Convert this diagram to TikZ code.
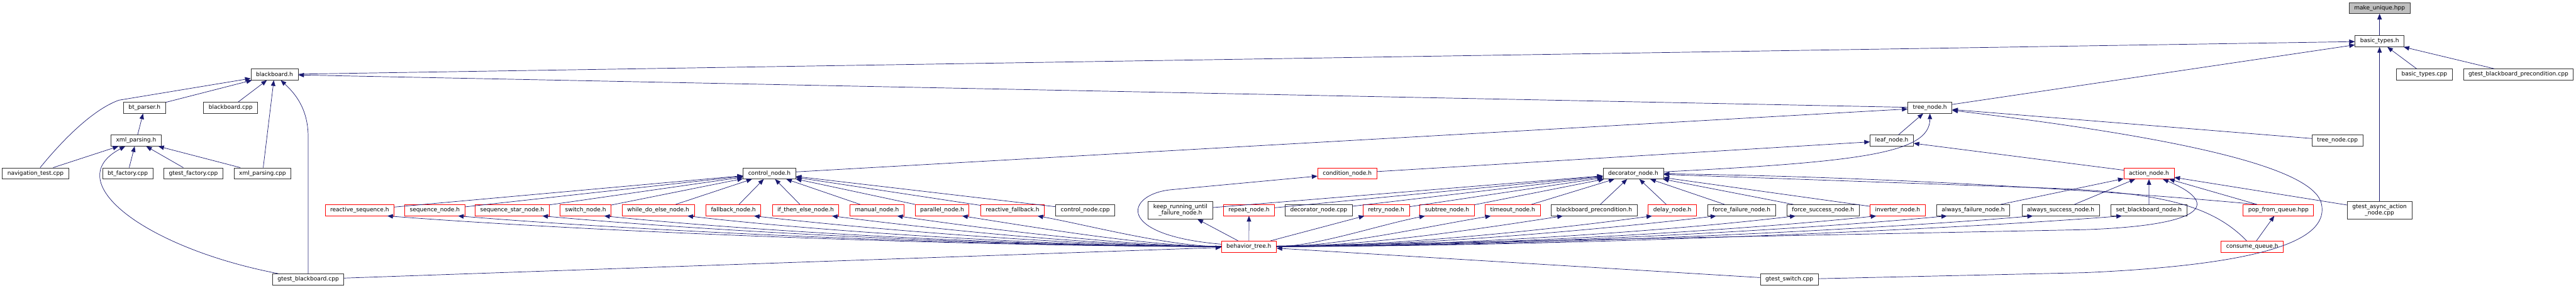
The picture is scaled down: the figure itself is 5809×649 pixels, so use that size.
\documentclass[tikz,border=0pt]{standalone}
\usepackage{fontspec}
\setmainfont{DejaVu Sans}
\usetikzlibrary{arrows.meta}
\definecolor{edgeblue}{HTML}{191970}
\definecolor{boxline}{HTML}{333333}
\definecolor{boxred}{HTML}{FF0000}
\definecolor{boxgray}{HTML}{BFBFBF}

\begin{document}
\begin{tikzpicture}[x=0.75pt,y=-0.75pt,
		file/.style={draw=boxline, fill=white, line width=0.75pt, minimum height=18.75pt, inner xsep=8.6pt, inner ysep=0pt, font=\fontsize{9.65}{10.9}\selectfont},
		redfile/.style={file, draw=boxred},
		twoline/.style={align=center, minimum height=30pt},
		inc/.style={draw=edgeblue, line width=0.75pt, -{Triangle[length=9.5pt,width=7.5pt]}}]
		\useasboundingbox (0,0) rectangle (5809,649);
		%top rows
		\node[file, fill=boxgray] (makeunique) at (5366,18) {make\_unique.hpp};
		\node[file] (basictypes) at (5366,93) {basic\_types.h};
		\node[file] (blackboardh) at (619,168) {blackboard.h};
		\node[file] (basictypescpp) at (5467,168) {basic\_types.cpp};
		\node[file] (gtestbbprecond) at (5679,168) {gtest\_blackboard\_precondition.cpp};
		\node[file] (btparser) at (326,243) {bt\_parser.h};
		\node[file] (blackboardcpp) at (520,243) {blackboard.cpp};
		\node[file] (treenode) at (4352,243) {tree\_node.h};
		\node[file] (xmlparsing) at (307,317) {xml\_parsing.h};
		\node[file] (leafnode) at (4266,317) {leaf\_node.h};
		\node[file] (treenodecpp) at (5271,317) {tree\_node.cpp};
		%base nodes
		\node[file] (navtest) at (80,391) {navigation\_test.cpp};
		\node[file] (btfactory) at (288,391) {bt\_factory.cpp};
		\node[file] (gtestfactory) at (436,391) {gtest\_factory.cpp};
		\node[file] (xmlparsingcpp) at (592,391) {xml\_parsing.cpp};
		\node[file] (controlnode) at (1735,391) {control\_node.h};
		\node[redfile] (conditionnode) at (3038,391) {condition\_node.h};
		\node[file] (decoratornode) at (3683,391) {decorator\_node.h};
		\node[redfile] (actionnode) at (4846,391) {action\_node.h};
		%concrete nodes
		\node[redfile] (reactseq) at (811,474) {reactive\_sequence.h};
		\node[redfile] (seqnode) at (980.5,474) {sequence\_node.h};
		\node[redfile] (seqstar) at (1155,474) {sequence\_star\_node.h};
		\node[redfile] (switchnode) at (1320.5,474) {switch\_node.h};
		\node[redfile] (whiledo) at (1484.4,474) {while\_do\_else\_node.h};
		\node[redfile] (fallback) at (1653.8,474) {fallback\_node.h};
		\node[redfile] (ifthen) at (1816.6,474) {if\_then\_else\_node.h};
		\node[redfile] (manual) at (1977.6,474) {manual\_node.h};
		\node[redfile] (parallel) at (2124.4,474) {parallel\_node.h};
		\node[redfile] (reactfallback) at (2283.2,474) {reactive\_fallback.h};
		\node[file] (controlnodecpp) at (2447.4,474) {control\_node.cpp};
		\node[file, twoline] (keeprunning) at (2661.8,474) {keep\_running\_until\\\_failure\_node.h};
		\node[redfile] (repeat) at (2816.5,474) {repeat\_node.h};
		\node[file] (decoratorcpp) at (2973.8,474) {decorator\_node.cpp};
		\node[redfile] (retry) at (3125.8,474) {retry\_node.h};
		\node[redfile] (subtree) at (3263.2,474) {subtree\_node.h};
		\node[redfile] (timeout) at (3411.1,474) {timeout\_node.h};
		\node[file] (bbprecond) at (3595,474) {blackboard\_precondition.h};
		\node[redfile] (delay) at (3771.2,474) {delay\_node.h};
		\node[file] (forcefailure) at (3927.2,474) {force\_failure\_node.h};
		\node[file] (forcesuccess) at (4111,474) {force\_success\_node.h};
		\node[redfile] (inverter) at (4279.3,474) {inverter\_node.h};
		\node[file] (alwaysfailure) at (4449.6,474) {always\_failure\_node.h};
		\node[file] (alwayssuccess) at (4646.8,474) {always\_success\_node.h};
		\node[file] (setbb) at (4845.9,474) {set\_blackboard\_node.h};
		\node[redfile] (popqueue) at (5137.9,474) {pop\_from\_queue.hpp};
		\node[file, twoline] (gtestasync) at (5366,474) {gtest\_async\_action\\\_node.cpp};
		%bottom rows
		\node[redfile] (behaviortree) at (2816.3,556) {behavior\_tree.h};
		\node[redfile] (consumequeue) at (5079,556) {consume\_queue.h};
		\node[file] (gtestbb) at (695,630) {gtest\_blackboard.cpp};
		\node[file] (gtestswitch) at (4035,630) {gtest\_switch.cpp};
		
		%basic types
		\draw[inc] (basictypes) -- (makeunique);
		\draw[inc] (blackboardh) -- (basictypes);
		\draw[inc] (treenode) -- (basictypes);
		\draw[inc] (basictypescpp) -- (basictypes);
		\draw[inc] (gtestbbprecond) -- (basictypes);
		\draw[inc] (gtestasync) -- (basictypes);
		%blackboard
		\draw[inc] (treenode) -- (blackboardh);
		\draw[inc] (btparser) -- (blackboardh);
		\draw[inc] (blackboardcpp) -- (blackboardh);
		\draw[inc] (xmlparsingcpp) -- (blackboardh);
		\draw[inc] (navtest) .. controls (150,305) and (215,245) .. (268,226) -- (blackboardh);
		\draw[inc] (gtestbb.north) -- (695,310) .. controls (695,250) and (670,215) .. (blackboardh);
		%parser
		\draw[inc] (xmlparsing) -- (btparser);
		\draw[inc] (navtest) -- (xmlparsing);
		\draw[inc] (btfactory) -- (xmlparsing);
		\draw[inc] (gtestfactory) -- (xmlparsing);
		\draw[inc] (xmlparsingcpp) -- (xmlparsing);
		\draw[inc] (gtestbb) .. controls (330,560) and (130,410) .. (xmlparsing);
		%tree node
		\draw[inc] (leafnode) -- (treenode);
		\draw[inc] (controlnode) -- (treenode);
		\draw[inc] (treenodecpp) -- (treenode);
		\draw[inc] (decoratornode) .. controls (4200,365) and (4352,345) .. (treenode);
		\draw[inc] (gtestswitch) -- (4700,615) .. controls (5150,595) and (5250,530) .. (5235,460) .. controls (5220,390) and (5000,320) .. (treenode);
		\draw[inc] (conditionnode) -- (leafnode);
		\draw[inc] (actionnode) -- (leafnode);
		%control node
		\draw[inc] (reactseq) -- (controlnode);
		\draw[inc] (seqnode) -- (controlnode);
		\draw[inc] (seqstar) -- (controlnode);
		\draw[inc] (switchnode) -- (controlnode);
		\draw[inc] (whiledo) -- (controlnode);
		\draw[inc] (fallback) -- (controlnode);
		\draw[inc] (ifthen) -- (controlnode);
		\draw[inc] (manual) -- (controlnode);
		\draw[inc] (parallel) -- (controlnode);
		\draw[inc] (reactfallback) -- (controlnode);
		\draw[inc] (controlnodecpp) -- (controlnode);
		%decorator node
		\draw[inc] (keeprunning) -- (decoratornode);
		\draw[inc] (repeat) -- (decoratornode);
		\draw[inc] (decoratorcpp) -- (decoratornode);
		\draw[inc] (retry) -- (decoratornode);
		\draw[inc] (subtree) -- (decoratornode);
		\draw[inc] (timeout) -- (decoratornode);
		\draw[inc] (bbprecond) -- (decoratornode);
		\draw[inc] (delay) -- (decoratornode);
		\draw[inc] (forcefailure) -- (decoratornode);
		\draw[inc] (forcesuccess) -- (decoratornode);
		\draw[inc] (inverter) -- (decoratornode);
		\draw[inc] (popqueue.165) .. controls (4700,425) and (4200,398) .. (decoratornode);
		\draw[inc] (consumequeue) .. controls (4990,465) and (4880,436) .. (4640,425) -- (decoratornode);
		%action node
		\draw[inc] (alwaysfailure) -- (actionnode);
		\draw[inc] (alwayssuccess) -- (actionnode);
		\draw[inc] (setbb) -- (actionnode);
		\draw[inc] (popqueue.165) -- (actionnode);
		\draw[inc] (gtestasync) -- (actionnode);
		\draw[inc] (consumequeue) -- (popqueue);
		%behavior tree
		\draw[inc] (behaviortree) .. controls (2510,530) and (2540,438) .. (2640,428) -- (conditionnode);
		\draw[inc] (behaviortree) -- (4700,518) .. controls (4990,508) and (5000,455) .. (actionnode);
		\draw[inc] (behaviortree) .. controls +(-650,0) and +(450,35) .. ([xshift=-12pt]reactseq.south east);
		\draw[inc] (behaviortree) .. controls +(-600,0) and +(420,35) .. ([xshift=-12pt]seqnode.south east);
		\draw[inc] (behaviortree) .. controls +(-550,0) and +(380,35) .. ([xshift=-12pt]seqstar.south east);
		\draw[inc] (behaviortree) .. controls +(-500,0) and +(340,35) .. ([xshift=-12pt]switchnode.south east);
		\draw[inc] (behaviortree) .. controls +(-440,0) and +(300,35) .. ([xshift=-12pt]whiledo.south east);
		\draw[inc] (behaviortree) .. controls +(-380,0) and +(260,30) .. ([xshift=-12pt]fallback.south east);
		\draw[inc] (behaviortree) .. controls +(-330,0) and +(230,30) .. ([xshift=-12pt]ifthen.south east);
		\draw[inc] (behaviortree) .. controls +(-280,0) and +(190,28) .. ([xshift=-12pt]manual.south east);
		\draw[inc] (behaviortree) .. controls +(-230,0) and +(160,25) .. ([xshift=-12pt]parallel.south east);
		\draw[inc] (behaviortree) .. controls +(-180,0) and +(120,22) .. ([xshift=-12pt]reactfallback.south east);
		\draw[inc] (behaviortree) -- (keeprunning);
		\draw[inc] (behaviortree) -- (repeat);
		\draw[inc] (behaviortree) -- (retry);
		\draw[inc] (behaviortree) .. controls +(150,0) and +(-110,22) .. ([xshift=9pt]subtree.south west);
		\draw[inc] (behaviortree) .. controls +(200,0) and +(-150,25) .. ([xshift=10pt]timeout.south west);
		\draw[inc] (behaviortree) .. controls +(260,0) and +(-180,28) .. ([xshift=20pt]bbprecond.south west);
		\draw[inc] (behaviortree) .. controls +(320,0) and +(-220,30) .. ([xshift=7pt]delay.south west);
		\draw[inc] (behaviortree) .. controls +(370,0) and +(-250,30) .. ([xshift=15pt]forcefailure.south west);
		\draw[inc] (behaviortree) .. controls +(430,0) and +(-290,35) .. ([xshift=15pt]forcesuccess.south west);
		\draw[inc] (behaviortree) .. controls +(490,0) and +(-330,35) .. ([xshift=11pt]inverter.south west);
		\draw[inc] (behaviortree) .. controls +(540,0) and +(-370,35) .. ([xshift=18pt]alwaysfailure.south west);
		\draw[inc] (behaviortree) .. controls +(600,0) and +(-410,35) .. ([xshift=19pt]alwayssuccess.south west);
		\draw[inc] (behaviortree) .. controls +(670,0) and +(-450,35) .. ([xshift=19pt]setbb.south west);
		%tests
		\draw[inc] (gtestbb) -- (behaviortree);
		\draw[inc] (gtestswitch) -- (behaviortree);
	\end{tikzpicture}
\end{document}
